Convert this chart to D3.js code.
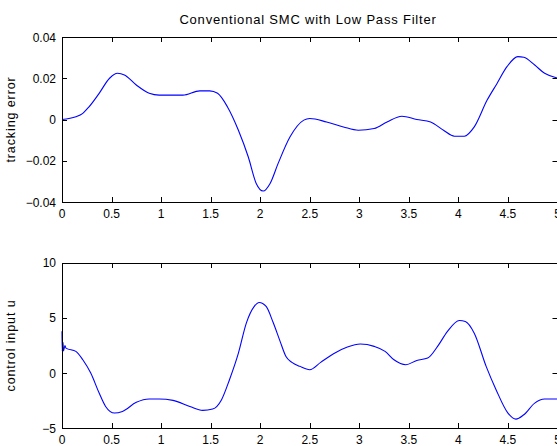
<!DOCTYPE html>
<html>
<head>
<meta charset="utf-8">
<script src="https://cdn.jsdelivr.net/npm/d3@7"></script>
<style>
html,body{margin:0;padding:0;background:#fff;}
svg{display:block;}
text{font-family:"Liberation Sans",Arial,sans-serif;fill:#000;}
</style>
</head>
<body>
<svg id="chart" width="557" height="446"></svg>
<script>
const title = "Conventional SMC with Low Pass Filter";
const xTicks = [0, 0.5, 1, 1.5, 2, 2.5, 3, 3.5, 4, 4.5, 5];
const errTicks = [-0.04, -0.02, 0, 0.02, 0.04];
const uTicks = [-5, 0, 5, 10];

const errTime = [0, 0.14, 0.21, 0.27, 0.375, 0.48, 0.56, 0.63, 0.75, 0.88, 0.98, 1.22, 1.39, 1.49, 1.57, 1.67, 1.78, 1.88, 1.96, 2.03, 2.10, 2.18, 2.30, 2.44, 2.50, 2.67, 2.84, 2.99, 3.15, 3.28, 3.43, 3.58, 3.72, 3.85, 3.96, 4.06, 4.16, 4.29, 4.39, 4.49, 4.60, 4.66, 4.77, 4.87, 4.98, 5.0];
const errValue = [0, 0.0013, 0.003, 0.006, 0.0127, 0.020, 0.0224, 0.0216, 0.0167, 0.0127, 0.0118, 0.0118, 0.0139, 0.0139, 0.0127, 0.0061, -0.0052, -0.0182, -0.031, -0.0347, -0.031, -0.0214, -0.0085, -0.0003, 0.0005, -0.0012, -0.0036, -0.0052, -0.0044, -0.0012, 0.0016, 0, -0.0012, -0.0052, -0.0081, -0.0081, -0.0036, 0.0094, 0.0175, 0.0256, 0.0305, 0.0302, 0.0264, 0.0224, 0.0204, 0.0202];

const uTime = [0, 0.002, 0.01, 0.015, 0.03, 0.04, 0.14, 0.21, 0.29, 0.375, 0.44, 0.53, 0.61, 0.75, 0.88, 0.98, 1.12, 1.29, 1.42, 1.52, 1.61, 1.69, 1.78, 1.86, 1.94, 1.99, 2.06, 2.13, 2.20, 2.26, 2.32, 2.40, 2.50, 2.61, 2.74, 2.88, 3.01, 3.15, 3.26, 3.35, 3.47, 3.58, 3.69, 3.79, 3.89, 4.01, 4.07, 4.16, 4.28, 4.38, 4.50, 4.58, 4.66, 4.77, 4.87, 4.98, 5.0];
const uValue = [3.8, 2.0, 2.8, 2.0, 2.5, 2.26, 1.97, 1.21, 0, -1.81, -3.02, -3.62, -3.47, -2.65, -2.35, -2.35, -2.47, -3.02, -3.38, -3.26, -2.41, -0.6, 1.81, 4.53, 6.04, 6.40, 6.04, 4.6, 2.9, 1.5, 0.97, 0.61, 0.31, 0.97, 1.76, 2.36, 2.63, 2.42, 1.97, 1.21, 0.76, 1.15, 1.36, 2.42, 3.78, 4.77, 4.68, 3.62, 0.61, -1.5, -3.62, -4.17, -3.77, -2.72, -2.35, -2.35, -2.35];

const svg = d3.select("#chart");
const X0 = 62, X1 = 557.5;
const x = d3.scaleLinear().domain([0, 5]).range([X0, X1]);

function panel(top, bottom, yDomain, yTicks, yFmt, label, times, values) {
  const y = d3.scaleLinear().domain(yDomain).range([bottom, top]);
  const g = svg.append("g");
  const line = d3.line().x((d, i) => x(times[i])).y(d => y(d)).curve(d3.curveMonotoneX);
  g.append("path").datum(values).attr("d", line)
    .attr("fill", "none").attr("stroke", "#0000ff").attr("stroke-width", 1.1);
  g.append("path").attr("d", `M${X1},${Math.round(top) + 0.5}H${X0 + 0.5}V${Math.round(bottom) + 0.5}H${X1}`)
    .attr("fill", "none").attr("stroke", "#000").attr("stroke-width", 1);
  const tl = 5;
  xTicks.forEach(t => {
    const px = Math.round(x(t)) + 0.5;
    g.append("line").attr("x1", px).attr("x2", px).attr("y1", Math.round(bottom)).attr("y2", Math.round(bottom) - tl)
      .attr("stroke", "#000");
    g.append("line").attr("x1", px).attr("x2", px).attr("y1", Math.round(top)).attr("y2", Math.round(top) + tl)
      .attr("stroke", "#000");
    g.append("text").attr("x", x(t)).attr("y", bottom + 16).attr("text-anchor", "middle")
      .attr("font-size", 12).text(d3.format("")(t));
  });
  yTicks.forEach(t => {
    const py = Math.round(y(t)) + 0.5;
    g.append("line").attr("x1", X0).attr("x2", X0 + tl).attr("y1", py).attr("y2", py)
      .attr("stroke", "#000");
    g.append("line").attr("x1", X1).attr("x2", X1 - tl).attr("y1", py).attr("y2", py)
      .attr("stroke", "#000");
    g.append("text").attr("x", X0 - 6).attr("y", y(t) + 4.5).attr("text-anchor", "end")
      .attr("font-size", 12).text(yFmt(t));
  });
  g.append("text").attr("transform", `translate(15,${(top + bottom) / 2}) rotate(-90)`)
    .attr("text-anchor", "middle").attr("font-size", 12.5).attr("letter-spacing", 0.9).text(label);
  return y;
}

panel(37, 202, [-0.04, 0.04], errTicks, d3.format(""), "tracking error", errTime, errValue);
panel(262.7, 428.3, [-5, 10], uTicks, d3.format(""), "control input u", uTime, uValue);

svg.append("text").attr("x", 308).attr("y", 24).attr("text-anchor", "middle")
  .attr("font-size", 13).attr("letter-spacing", 0.8).text(title);
</script>
</body>
</html>
